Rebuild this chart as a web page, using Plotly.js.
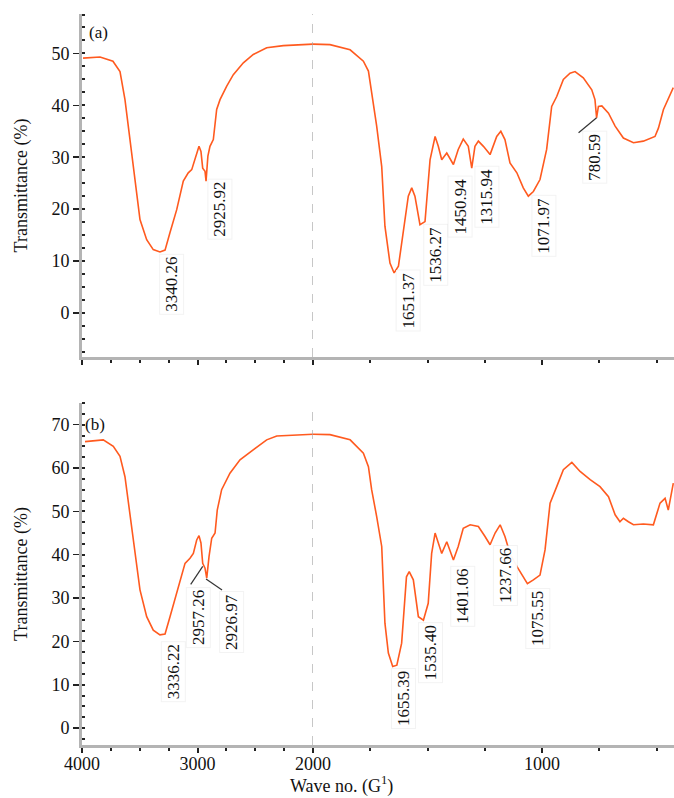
<!DOCTYPE html>
<html>
<head>
<meta charset="utf-8">
<script src="https://cdn.plot.ly/plotly-3.0.1.min.js"></script>
<style>html,body{margin:0;padding:0;background:#fff;}#chart{width:674px;height:798px;}</style>
</head>
<body>
<div id="chart"></div>
<script>
// Panel (a) spectrum
const wnA = [3991,3844,3732,3671,3628, 3584,3541,3498,3440,3383, 3325,3281,3238,3180,3123,
  3080,3050,3007,2987,2970, 2955,2935,2926,2910,2892, 2863,2834,2805,2747,2690,
  2603,2517,2401,2257,2000, 1926,1838,1780,1758,1744, 1722,1700,1686,1664,1646,
  1627,1606,1584,1569,1555, 1533,1511,1489,1467,1453, 1438,1416,1387,1366,1344,
  1322,1307,1293,1278,1256, 1227,1198,1180,1162,1140, 1110,1082,1060,1038,1009,
  980,958,936,907,878, 856,820,783,769,762, 754,739,710,681,645, 601,558,507,492,470, 427];
const tA = [49.1,49.3,48.5,46.5,41.1, 33.4,25.1,18.0,14.1,12.2, 11.75,12.1,15.5,19.9,25.4,
  27.0,27.6,30.8,32.1,31.1, 27.9,27.3,25.4,30.2,32.1, 33.4,39.2,41.1,43.7,45.9,
  48.2,49.8,51.1,51.5,51.8, 51.7,50.7,48.5,46.6,42.4, 36.0,28.2,16.7,9.6,7.7,
  9.0,15.4,22.5,24.1,22.5, 17.0,17.6,29.5,34.0,32.1, 29.5,30.8,28.6,31.5,33.5,
  32.1,27.9,32.1,33.1,32.1, 30.5,34.0,35.0,33.4,28.9, 27.0,24.1,22.5,23.4,25.7,
  31.5,39.8,41.7,45.0,46.2, 46.5,45.3,43.0,41.1,37.6, 39.8,39.9,38.5,36.0,33.7, 32.8,33.1,34.0,35.6,39.2, 43.4];

// Panel (b) spectrum
const wnB = [3974,3816,3729,3671,3628, 3584,3541,3498,3440,3383, 3325,3281,3238,3195,3152,
  3108,3065,3036,3007,2987, 2970,2955,2935,2920,2900, 2877,2848,2829,2791,2719,
  2632,2517,2401,2314,2000, 1926,1838,1780,1758,1744, 1722,1700,1686,1671,1652,
  1634,1613,1592,1580,1562, 1540,1518,1497,1482,1467, 1453,1438,1416,1402,1387,
  1366,1344,1314,1278,1249, 1227,1205,1183,1162,1140, 1110,1082,1064,1038,1009,
  987,965,936,907,870, 834,790,747,710,681, 660,645,623,601,558, 514,485,463,449,434, 427];
const tB = [66.1,66.5,65.0,62.7,58.0, 48.8,40.3,31.9,25.7,22.6, 21.5,21.7,25.7,29.6,33.4,
  38.0,39.2,40.3,43.4,44.4, 42.7,38.0,36.9,34.6,39.6, 43.8,45.0,50.3,55.0,58.8,
  61.9,64.2,66.5,67.4,67.8, 67.7,66.5,63.4,60.3,55.0, 48.8,41.9,24.2,17.3,14.2,
  14.5,19.6,34.9,36.1,34.2, 25.7,24.9,28.8,40.3,45.0, 42.7,40.3,43.0,41.1,38.8,
  41.9,46.1,46.9,46.5,44.2, 42.3,45.0,46.9,44.2,40.3, 37.3,34.9,33.3,34.2,35.3,
  41.1,51.9,55.7,59.6,61.3, 59.2,57.3,55.7,53.4,49.2, 47.6,48.4,47.6,46.9,47.1, 46.9,51.9,53.0,50.3,54.2, 56.5];

// Peak labels
const labelsA = ['3340.26','2925.92','1651.37','1536.27','1450.94','1315.94','1071.97','780.59'];
const labelsB = ['3336.22','2957.26','2926.97','1655.39','1535.40','1401.06','1237.66','1075.55'];

// X tick labels
const xTicksHigh = [4000, 3000, 2000];
const xTicksLow = [1000];
const xTitle = 'Wave no. (G<sup>1</sup>)';
const yTitle = 'Transmittance (%)';

// ---------- layout helpers ----------
const FONT = 'Liberation Serif, Times New Roman, serif';
const ORANGE = '#ff5a1f';
const AXC = '#b4b4b4';

function split(wn, t) {
  const hi = {x: [], y: []}, lo = {x: [], y: []};
  wn.forEach((w, i) => {
    if (w >= 2000) { hi.x.push(w); hi.y.push(t[i]); }
    if (w <= 2000) { lo.x.push(w); lo.y.push(t[i]); }
  });
  return [hi, lo];
}
const [aHi, aLo] = split(wnA, tA);
const [bHi, bLo] = split(wnB, tB);
const line = {color: ORANGE, width: 1.6};
const traces = [
  {x: bHi.x, y: bHi.y, xaxis: 'x', yaxis: 'y', mode: 'lines', line},
  {x: bLo.x, y: bLo.y, xaxis: 'x2', yaxis: 'y', mode: 'lines', line},
  {x: aHi.x, y: aHi.y, xaxis: 'x3', yaxis: 'y2', mode: 'lines', line},
  {x: aLo.x, y: aLo.y, xaxis: 'x4', yaxis: 'y2', mode: 'lines', line},
];

const split_ = 231 / 592;
function xHigh(anchor, labels) {
  return {
    domain: [0, split_], range: [4000, 2000], anchor,
    tickmode: 'array', tickvals: xTicksHigh, ticktext: xTicksHigh.map(String),
    showticklabels: labels, ticks: 'outside', ticklen: 5, tickwidth: 2, tickcolor: '#222',
    ticklabelstandoff: -5,
    minor: {dtick: 250, tick0: 0, ticks: 'outside', ticklen: 3, tickwidth: 2, tickcolor: '#222'},
    showline: true, linecolor: AXC, linewidth: 3, showgrid: false, zeroline: false,
    tickfont: {family: FONT, size: 18, color: '#111'}
  };
}
function xLow(anchor, labels) {
  return {
    domain: [split_, 1], range: [2000, 424], anchor,
    tickmode: 'array', tickvals: xTicksLow, ticktext: xTicksLow.map(String),
    showticklabels: labels, ticks: 'outside', ticklen: 5, tickwidth: 2, tickcolor: '#222',
    ticklabelstandoff: -5,
    minor: {tickmode: 'array', tickvals: [1750, 1500, 1250, 750, 500], ticks: 'outside', ticklen: 3, tickwidth: 2, tickcolor: '#222'},
    showline: true, linecolor: AXC, linewidth: 3, showgrid: false, zeroline: false,
    tickfont: {family: FONT, size: 18, color: '#111'}
  };
}
function yAx(domain, range) {
  return {
    domain, range, anchor: 'x',
    dtick: 10, tick0: 0, ticks: 'outside', ticklen: 6, tickwidth: 1.5, tickcolor: '#222',
    minor: {dtick: 2.5, tick0: 0, ticks: 'inside', ticklen: 3, tickwidth: 2, tickcolor: '#222'},
    showline: true, linecolor: AXC, linewidth: 3, showgrid: false, zeroline: false,
    tickfont: {family: FONT, size: 18, color: '#111'},
    title: {text: yTitle, font: {family: FONT, size: 18, color: '#111'}, standoff: 20}
  };
}

const annFont = {family: FONT, size: 17, color: '#111'};
function peakAnn(text, x, y, yref) {
  return {
    text, x, y, xref: x >= 2000 ? (yref === 'y' ? 'x' : 'x3') : (yref === 'y' ? 'x2' : 'x4'),
    yref, textangle: -90, showarrow: false, font: annFont,
    bgcolor: 'rgba(255,255,255,0.95)', bordercolor: 'rgba(0,0,0,0.05)', borderwidth: 1, borderpad: 2
  };
}
const posA = [[3221, 5.6], [2805, 19.9], [1585, 2.4], [1463, 11.2], [1358, 20.5], [1240, 22.4], [991, 16.8], [769, 30.1]];
const posB = [[3212, 12.9], [2996, 25.6], [2701, 24.5], [1607, 6.7], [1489, 17.3], [1345, 30.3], [1162, 35.3], [1017, 25.2]];

const annotations = [];
labelsA.forEach((t, i) => annotations.push(peakAnn(t, posA[i][0], posA[i][1], 'y2')));
labelsB.forEach((t, i) => annotations.push(peakAnn(t, posB[i][0], posB[i][1], 'y')));
// panel tags
annotations.push({text: '(a)', x: 3853, y: 54, xref: 'x3', yref: 'y2', showarrow: false, font: annFont});
annotations.push({text: '(b)', x: 3890, y: 70, xref: 'x', yref: 'y', showarrow: false, font: annFont});
// x title
annotations.push({text: xTitle, xref: 'paper', yref: 'paper', x: (341 - 82) / 592, y: 0, yshift: -40,
  xanchor: 'center', yanchor: 'middle', showarrow: false, font: {family: FONT, size: 18, color: '#111'}});

// leader lines from peak to label (pixel-sized, anchored at the peak)
function leader(x, y, xref, yref, dx, dy) {
  return {type: 'line', xref, yref, xsizemode: 'pixel', ysizemode: 'pixel', xanchor: x, yanchor: y,
    x0: 0, y0: 0, x1: dx, y1: -dy, line: {color: '#333', width: 1.2}};
}
const shapes = [
  {type: 'line', xref: 'x', yref: 'y domain', x0: 2000, x1: 2000, y0: 0, y1: 1, line: {color: '#aaa', width: 1.3, dash: 'dash'}},
  {type: 'line', xref: 'x3', yref: 'y2 domain', x0: 2000, x1: 2000, y0: 0, y1: 1, line: {color: '#aaa', width: 1.3, dash: 'dash'}},
  leader(762, 37.6, 'x4', 'y2', -18, 15),
  leader(2955, 37.3, 'x', 'y', -12, 18),
  leader(2926, 34.4, 'x', 'y', 16, 11)
];

const layout = {
  width: 674, height: 798,
  margin: {l: 82, r: 0, t: 14, b: 53},
  paper_bgcolor: '#fff', plot_bgcolor: '#fff',
  showlegend: false,
  font: {family: FONT, color: '#111'},
  xaxis: xHigh('y', true),
  xaxis2: xLow('y', true),
  xaxis3: xHigh('y2', false),
  xaxis4: xLow('y2', false),
  yaxis: yAx([0, 342 / 731], [-3.9, 75]),
  yaxis2: Object.assign(yAx([388 / 731, 1], [-8.5, 57.6]), {anchor: 'x3'}),
  annotations, shapes
};

Plotly.newPlot('chart', traces, layout, {displayModeBar: false, staticPlot: true});
</script>
</body>
</html>
